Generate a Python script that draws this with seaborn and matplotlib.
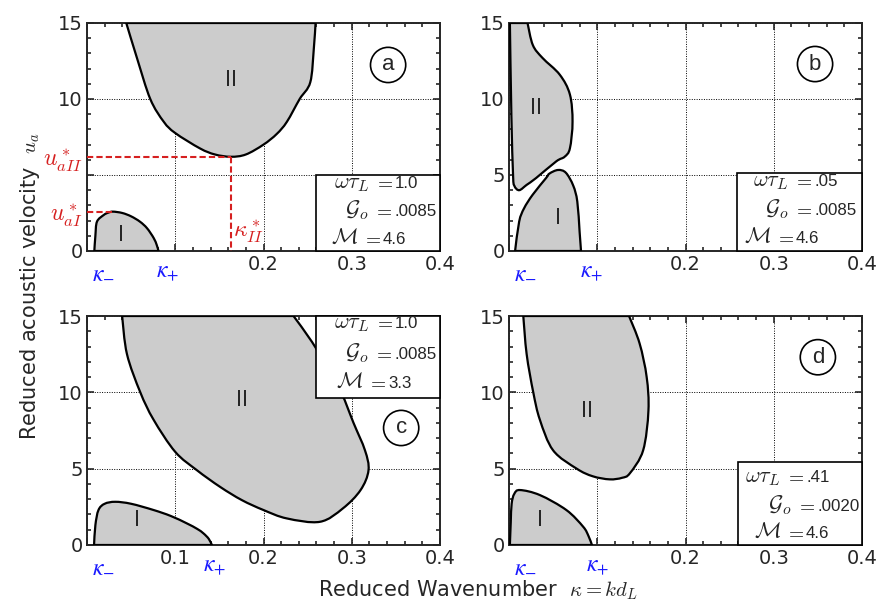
import numpy as np
import matplotlib
matplotlib.use("Agg")
import matplotlib.pyplot as plt
from matplotlib.patches import Rectangle, PathPatch
from matplotlib.path import Path
from matplotlib.ticker import MultipleLocator
import matplotlib.transforms as mtransforms
import seaborn as sns

# ---------------- data (boundaries of instability regions) ----------------
a_II_k = [0.0445, 0.0566, 0.0717, 0.087, 0.1, 0.128, 0.145, 0.163, 0.18, 0.2, 0.215, 0.2265, 0.241, 0.253, 0.257, 0.259]
a_II_u = [15, 12.7, 10.0, 8.5, 7.76, 6.75, 6.35, 6.2, 6.35, 7.0, 7.7, 8.5, 10.0, 11.1, 13.3, 15]
a_I_k = [0.0083, 0.0095, 0.0113, 0.019, 0.024, 0.0294, 0.04, 0.05, 0.06, 0.068, 0.0755, 0.079, 0.081]
a_I_u = [0, 1.0, 1.93, 2.37, 2.52, 2.59, 2.5, 2.28, 1.93, 1.5, 0.86, 0.4, 0]

b_II_k = [0.001, 0.0027, 0.0046, 0.006, 0.0115, 0.02, 0.0307, 0.0536, 0.063, 0.069, 0.072, 0.069, 0.0575, 0.038, 0.027, 0.021]
b_II_u = [15, 8.9, 5.0, 4.3, 4.0, 4.35, 4.8, 5.9, 6.2, 6.75, 8.5, 10.3, 11.6, 12.7, 13.55, 15]
b_I_k = [0.0069, 0.0115, 0.017, 0.0268, 0.042, 0.046, 0.0556, 0.0644, 0.0728, 0.0774, 0.080, 0.0816]
b_I_u = [0, 1.93, 2.8, 3.7, 4.8, 5.1, 5.33, 5.15, 4.3, 3.25, 1.27, 0]

c_II_k = [0.0398, 0.0453, 0.0604, 0.0755, 0.1, 0.1245, 0.151, 0.1755, 0.2, 0.2265, 0.264, 0.29, 0.31, 0.319, 0.315, 0.302, 0.288, 0.27, 0.255, 0.234]
c_II_u = [15, 12.5, 10.0, 8.2, 6.1, 4.9, 3.8, 2.94, 2.29, 1.74, 1.52, 2.4, 3.6, 4.9, 6.2, 8.0, 10.0, 11.8, 13.3, 15]
c_I_k = [0.008, 0.0095, 0.013, 0.02, 0.032, 0.05, 0.0755, 0.095, 0.113, 0.125, 0.132, 0.138, 0.1415]
c_I_u = [0, 1.3, 2.29, 2.7, 2.83, 2.7, 2.29, 1.9, 1.42, 1.05, 0.76, 0.4, 0]

d_II_k = [0.0162, 0.020, 0.0275, 0.035, 0.05, 0.0767, 0.095, 0.114, 0.128, 0.137, 0.152, 0.158, 0.156, 0.148, 0.136]
d_II_u = [15, 12.5, 10.0, 8.2, 6.2, 5.0, 4.5, 4.3, 4.4, 4.7, 6.2, 8.8, 11.0, 13.2, 15]
d_I_k = [0.001, 0.002, 0.003, 0.006, 0.0125, 0.035, 0.065, 0.084, 0.09, 0.094]
d_I_u = [0, 1.5, 2.7, 3.35, 3.6, 3.27, 2.29, 1.2, 0.6, 0]

panel_letters = ["a", "b", "c", "d"]
omega_tau = ["1.0", ".05", "1.0", ".41"]
G_o = [".0085", ".0085", ".0085", ".0020"]
M_vals = ["4.6", "4.6", "3.3", "4.6"]
kappa_minus = [0.018, 0.018, 0.018, 0.018]
kappa_plus = [0.091, 0.094, 0.145, 0.10]
label_II_pos = [(0.163, 11.25), (0.031, 9.4), (0.1755, 9.5), (0.0887, 8.8)]
label_I_pos = [(0.038, 1.05), (0.056, 2.15), (0.0566, 1.63), (0.035, 1.63)]

# panel (a) critical values
u_aI_star = 2.58
u_aII_star = 6.2
kappa_II_star = 0.163
kappa_aI_peak = 0.0294

# ---------------- style ----------------
sns.set_style("ticks")
plt.rcParams["font.family"] = ["DejaVu Sans"]
plt.rcParams["mathtext.fontset"] = "cm"
plt.rcParams["axes.linewidth"] = 1.4

FILL = "#cccccc"
RED = "#d62020"
BLUE = "#1a1aff"
TICK_FS = 14
LAB_FS = 15
SYM_FS = 16
VAL_FS = 12.2

fig = plt.figure(figsize=(8.8, 6.04), dpi=100)

AXW_PX = 353
rects = [
    (87 / 880, 1 - 251 / 604, AXW_PX / 880, 228 / 604),
    (509 / 880, 1 - 251 / 604, AXW_PX / 880, 228 / 604),
    (87 / 880, 1 - 545 / 604, AXW_PX / 880, 229 / 604),
    (509 / 880, 1 - 545 / 604, AXW_PX / 880, 229 / 604),
]
ax_h_px = [228, 228, 229, 229]
regions = [
    ((a_II_k, a_II_u), (a_I_k, a_I_u)),
    ((b_II_k, b_II_u), (b_I_k, b_I_u)),
    ((c_II_k, c_II_u), (c_I_k, c_I_u)),
    ((d_II_k, d_II_u), (d_I_k, d_I_u)),
]
box_left_px = [316 - 87, 737 - 509, 316 - 87, 738 - 509]
box_top_px = [76, 78, 229, 83]
box_bottom_px = [0, 0, 147, 0]
eq_px = [[58, 57, 46], [56, 56, 38], [58, 57, 51], [47, 58, 47]]
line_px = [[7, 35, 63], [7, 36, 64], [6, 37, 66], [14, 43, 70]]
circle_pos = [(0.853, 0.816), (0.867, 0.82), (0.89, 0.511), (0.875, 0.82)]


def smooth_path(k, u):
    P = np.column_stack([k, u]).astype(float)
    n = len(P)
    verts = [P[0]]
    codes = [Path.MOVETO]
    for i in range(n - 1):
        p0 = P[i - 1] if i > 0 else P[i]
        p1 = P[i]
        p2 = P[i + 1]
        p3 = P[i + 2] if i + 2 < n else P[i + 1]
        verts += [p1 + (p2 - p0) / 6.0, p2 - (p3 - p1) / 6.0, p2]
        codes += [Path.CURVE4] * 3
    verts.append(P[0])
    codes.append(Path.CLOSEPOLY)
    return Path(np.array(verts), codes)


for i, r in enumerate(rects):
    ax = fig.add_axes(r)
    ax.set_xlim(0, 0.4)
    ax.set_ylim(0, 15)
    ax.set_axisbelow(True)
    ax.grid(True, which="major", ls=(0, (1, 1.5)), color="k", lw=0.7)

    for (kk, uu) in regions[i]:
        ax.add_patch(PathPatch(smooth_path(kk, uu), facecolor=FILL, edgecolor="k",
                               lw=1.6, zorder=3))

    ax.xaxis.set_major_locator(MultipleLocator(0.1))
    ax.xaxis.set_minor_locator(MultipleLocator(0.02))
    ax.yaxis.set_major_locator(MultipleLocator(5))
    ax.yaxis.set_minor_locator(MultipleLocator(1))
    ax.tick_params(which="both", direction="in", top=True, right=True, width=1.2)
    ax.tick_params(which="major", length=5, labelsize=TICK_FS, pad=3)
    ax.tick_params(which="minor", length=3)

    ax.set_xticks([0, 0.1, 0.2, 0.3, 0.4])
    if i == 2:
        ax.set_xticklabels(["", "0.1", "0.2", "0.3", "0.4"])
    else:
        ax.set_xticklabels(["", "", "0.2", "0.3", "0.4"])
    ax.set_yticks([0, 5, 10, 15])
    if i == 0:
        ax.set_yticklabels(["0", "", "10", "15"])
    else:
        ax.set_yticklabels(["0", "5", "10", "15"])

    # kappa-minus / kappa-plus labels below the axis
    hpx = ax_h_px[i]
    trans = mtransforms.blended_transform_factory(ax.transData, ax.transAxes)
    for kv, s in ((kappa_minus[i], r"$\kappa_{-}$"), (kappa_plus[i], r"$\kappa_{+}$")):
        ax.text(kv, -8 / hpx, s, color=BLUE, fontsize=17, math_fontfamily="stix",
                ha="center", va="top", transform=trans)

    # region labels
    ax.text(*label_II_pos[i], "II", fontsize=15, ha="center", va="center", zorder=4)
    ax.text(*label_I_pos[i], "I", fontsize=15, ha="center", va="center", zorder=4)

    # parameter box
    x0 = box_left_px[i] / AXW_PX
    y0 = box_bottom_px[i] / hpx
    y1 = box_top_px[i] / hpx
    ax.add_patch(Rectangle((x0, y0), 1 - x0, y1 - y0, transform=ax.transAxes,
                           facecolor="white", edgecolor="k", lw=1.2, zorder=5, clip_on=False))
    syms = [r"$\omega\tau_L$", r"$\mathcal{G}_o$", r"$\mathcal{M}$"]
    vals = [omega_tau[i], G_o[i], M_vals[i]]
    for j in range(3):
        xe = (box_left_px[i] + eq_px[i][j]) / AXW_PX
        yy = (box_top_px[i] - line_px[i][j] - 6) / hpx
        ax.text(xe - 4 / AXW_PX, yy, syms[j], fontsize=SYM_FS, ha="right", va="baseline",
                transform=ax.transAxes, zorder=6)
        ax.text(xe, yy, r"$=$", fontsize=SYM_FS - 2, ha="left", va="baseline",
                transform=ax.transAxes, zorder=6)
        ax.text(xe + 21 / AXW_PX, yy, vals[j], fontsize=VAL_FS, ha="left", va="baseline",
                transform=ax.transAxes, zorder=6, family="Liberation Sans")

    # circled panel letter
    cx, cy = circle_pos[i]
    ax.text(cx, cy, panel_letters[i], fontsize=16, ha="center", va="center",
            transform=ax.transAxes, zorder=6, family="Liberation Sans",
            bbox=dict(boxstyle="circle,pad=0.32", fc="white", ec="k", lw=1.2))

    if i == 0:
        dash = dict(color=RED, lw=1.5, dashes=(3, 1.5), ax=ax, zorder=4, legend=False)
        sns.lineplot(x=[0, kappa_aI_peak], y=[u_aI_star, u_aI_star], **dash)
        sns.lineplot(x=[0, kappa_II_star], y=[u_aII_star, u_aII_star], **dash)
        sns.lineplot(x=[kappa_II_star, kappa_II_star], y=[u_aII_star, 0], sort=False,
                     estimator=None, **dash)
        ax.text(-0.005, u_aI_star - 0.25, r"$u_{aI}^*$", color=RED, fontsize=17,
                ha="right", va="center")
        ax.text(-0.005, u_aII_star - 0.25, r"$u_{aII}^*$", color=RED, fontsize=17,
                ha="right", va="center")
        ax.text(kappa_II_star + 0.002, 1.25, r"$\kappa_{II}^*$", color=RED, fontsize=17,
                ha="left", va="center")
    ax.set_xlim(0, 0.4)
    ax.set_ylim(0, 15)
    ax.set_xlabel("")
    ax.set_ylabel("")

fig.text(30 / 880, 1 - 286 / 604, r"Reduced acoustic velocity  $u_a$", rotation=90,
         fontsize=LAB_FS, ha="center", va="center")
fig.text(478 / 880, 1 - 590 / 604, r"Reduced Wavenumber  $\kappa = kd_L$",
         fontsize=LAB_FS, ha="center", va="center")

fig.savefig("out.png", dpi=100)
